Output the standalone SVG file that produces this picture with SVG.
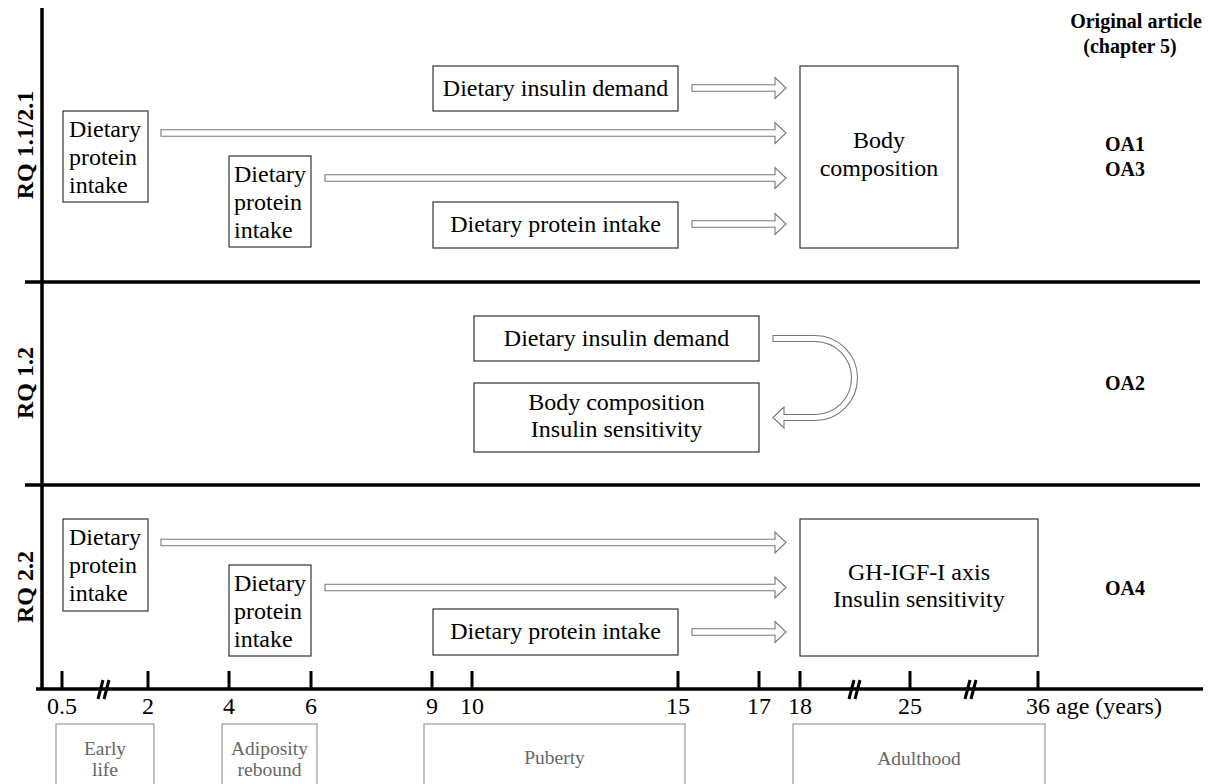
<svg xmlns="http://www.w3.org/2000/svg" width="1214" height="784" viewBox="0 0 1214 784">
<style>
text{font-family:"Liberation Serif","Times New Roman",serif;fill:#000}
.t{font-size:24px}
.c{text-anchor:middle}
.rq{font-size:24px;font-weight:bold;text-anchor:middle}
.oa{font-size:20px;font-weight:bold;text-anchor:middle}
.box{fill:#fff;stroke:#333;stroke-width:1.2}
.pbox{fill:#fff;stroke:#999;stroke-width:1.2}
.ptxt{font-size:19.5px;fill:#666;text-anchor:middle}
.ax{stroke:#000;stroke-width:3.5;fill:none}
.tick{stroke:#000;stroke-width:3;fill:none}
.arr{fill:#fff;stroke:#777;stroke-width:1.1}
</style>
<rect width="1214" height="784" fill="#fff"/>
<g id="axes">
<line class="ax" x1="42" y1="8" x2="42" y2="690"/>
<line class="ax" x1="25" y1="282" x2="1200" y2="282"/>
<line class="ax" x1="25" y1="485" x2="1200" y2="485"/>
<line class="ax" x1="36" y1="689" x2="1203" y2="689"/>
<g class="tick">
<line x1="62" y1="671" x2="62" y2="689"/>
<line x1="148" y1="671" x2="148" y2="689"/>
<line x1="229" y1="671" x2="229" y2="689"/>
<line x1="311" y1="671" x2="311" y2="689"/>
<line x1="432" y1="671" x2="432" y2="689"/>
<line x1="472" y1="671" x2="472" y2="689"/>
<line x1="678" y1="671" x2="678" y2="689"/>
<line x1="759" y1="671" x2="759" y2="689"/>
<line x1="800" y1="671" x2="800" y2="689"/>
<line x1="910" y1="671" x2="910" y2="689"/>
<line x1="1038" y1="671" x2="1038" y2="689"/>
<line x1="98" y1="699" x2="103" y2="680"/>
<line x1="104" y1="699" x2="109" y2="680"/>
<line x1="849" y1="699" x2="854" y2="680"/>
<line x1="855" y1="699" x2="860" y2="680"/>
<line x1="965" y1="699" x2="970" y2="680"/>
<line x1="971" y1="699" x2="976" y2="680"/>
</g>
<g class="t c">
<text x="62" y="714">0.5</text>
<text x="148" y="714">2</text>
<text x="229" y="714">4</text>
<text x="311" y="714">6</text>
<text x="432" y="714">9</text>
<text x="472" y="714">10</text>
<text x="678" y="714">15</text>
<text x="759" y="714">17</text>
<text x="800" y="714">18</text>
<text x="910" y="714">25</text>
</g>
<text class="t" x="1026" y="714">36 age (years)</text>
</g>
<g id="periods">
<rect class="pbox" x="56" y="724" width="98" height="80"/>
<text class="ptxt" x="105" y="755">Early</text>
<text class="ptxt" x="105" y="776">life</text>
<rect class="pbox" x="222" y="724" width="95" height="80"/>
<text class="ptxt" x="269.5" y="755">Adiposity</text>
<text class="ptxt" x="269.5" y="776">rebound</text>
<rect class="pbox" x="424" y="724" width="261" height="80"/>
<text class="ptxt" x="554.5" y="764">Puberty</text>
<rect class="pbox" x="793" y="724" width="252" height="80"/>
<text class="ptxt" x="919" y="765">Adulthood</text>
</g>
<g id="labels">
<text class="rq" transform="translate(33,145) rotate(-90)">RQ 1.1/2.1</text>
<text class="rq" transform="translate(33,383) rotate(-90)">RQ 1.2</text>
<text class="rq" transform="translate(33,587) rotate(-90)">RQ 2.2</text>
<text class="oa" x="1136" y="28">Original article</text>
<text class="oa" x="1130" y="53">(chapter 5)</text>
<text class="oa" x="1125" y="151">OA1</text>
<text class="oa" x="1125" y="176">OA3</text>
<text class="oa" x="1125" y="390">OA2</text>
<text class="oa" x="1125" y="595">OA4</text>
</g>
<g id="connectors">
<polygon class="arr" points="692,84.7 775,84.7 775,77.5 786,88 775,98.5 775,91.3 692,91.3"/>
<polygon class="arr" points="161,129.7 775,129.7 775,122.5 786,133 775,143.5 775,136.3 161,136.3"/>
<polygon class="arr" points="325,174.7 775,174.7 775,167.5 786,178 775,188.5 775,181.3 325,181.3"/>
<polygon class="arr" points="692,220.7 775,220.7 775,213.5 786,224 775,234.5 775,227.3 692,227.3"/>
<path class="arr" d="M773,335.5 H815 A42.5,42.5 0 0 1 815,420.5 H784 V428 L773,417.5 L784,407 V414.5 H815 A36.5,36.5 0 0 0 815,341.5 H773 Z"/>
<polygon class="arr" points="161,539.2 775,539.2 775,532 786,542.5 775,553 775,545.8 161,545.8"/>
<polygon class="arr" points="325,584.2 775,584.2 775,577 786,587.5 775,598 775,590.8 325,590.8"/>
<polygon class="arr" points="692,628.7 775,628.7 775,621.5 786,632 775,642.5 775,635.3 692,635.3"/>
</g>
<g id="n1">
<rect class="box" x="63" y="111" width="85" height="91"/>
<text class="t" x="69" y="137">Dietary</text>
<text class="t" x="69" y="165">protein</text>
<text class="t" x="69" y="193">intake</text>
</g>
<g id="n2">
<rect class="box" x="229" y="156" width="82" height="91"/>
<text class="t" x="234" y="182">Dietary</text>
<text class="t" x="234" y="210">protein</text>
<text class="t" x="234" y="238">intake</text>
</g>
<g id="n3">
<rect class="box" x="433" y="66" width="245" height="45"/>
<text class="t c" x="555.5" y="96">Dietary insulin demand</text>
</g>
<g id="n4">
<rect class="box" x="433" y="202" width="245" height="46"/>
<text class="t c" x="555.5" y="232">Dietary protein intake</text>
</g>
<g id="n5">
<rect class="box" x="800" y="66" width="158" height="182"/>
<text class="t c" x="879" y="148">Body</text>
<text class="t c" x="879" y="176">composition</text>
</g>
<g id="n6">
<rect class="box" x="474" y="316" width="285" height="45"/>
<text class="t c" x="616.5" y="346">Dietary insulin demand</text>
</g>
<g id="n7">
<rect class="box" x="474" y="383" width="285" height="69"/>
<text class="t c" x="616.5" y="410">Body composition</text>
<text class="t c" x="616.5" y="437">Insulin sensitivity</text>
</g>
<g id="n8">
<rect class="box" x="63" y="519" width="85" height="92"/>
<text class="t" x="69" y="545">Dietary</text>
<text class="t" x="69" y="573">protein</text>
<text class="t" x="69" y="601">intake</text>
</g>
<g id="n9">
<rect class="box" x="229" y="565" width="82" height="91"/>
<text class="t" x="234" y="591">Dietary</text>
<text class="t" x="234" y="619">protein</text>
<text class="t" x="234" y="647">intake</text>
</g>
<g id="n10">
<rect class="box" x="433" y="609" width="245" height="46"/>
<text class="t c" x="555.5" y="639">Dietary protein intake</text>
</g>
<g id="n11">
<rect class="box" x="800" y="519" width="238" height="137"/>
<text class="t c" x="919" y="580">GH-IGF-I axis</text>
<text class="t c" x="919" y="607">Insulin sensitivity</text>
</g>
</svg>
